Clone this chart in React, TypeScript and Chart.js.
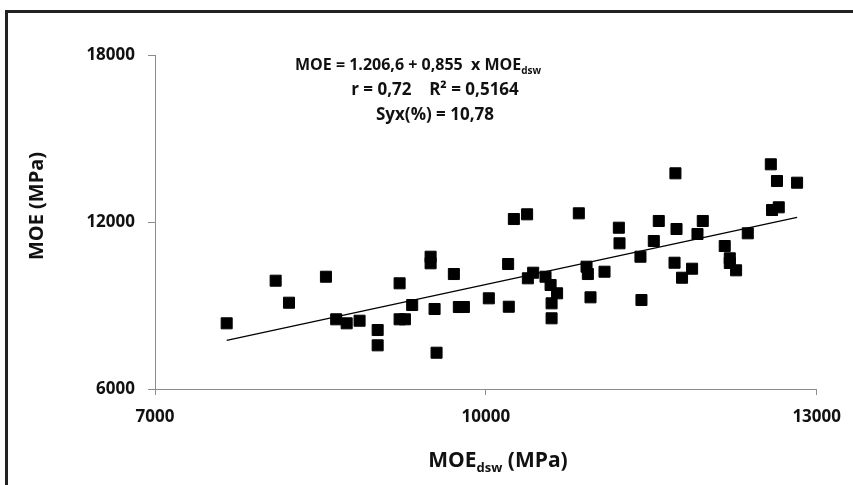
import React, { useEffect, useRef } from "react";
import { Chart, registerables } from "chart.js";

Chart.register(...registerables);

// MOE_dsw (x, MPa) and MOE (y, MPa)
const moeDsw = [
  7650, 8094, 8215, 8550, 8643, 8738, 8855, 9019, 9019, 9218,
  9218, 9266, 9332, 9499, 9499, 9535, 9553, 9710, 9755, 9801,
  10027, 10202, 10208, 10254, 10374, 10381, 10429, 10541, 10587, 10646,
  10596, 10596, 10843, 10913, 10925, 10949, 11076, 11206, 11212, 11402,
  11411, 11523, 11568, 11719, 11729, 11711, 11779, 11870, 11967, 11919,
  12166, 12212, 12212, 12269, 12375, 12584, 12640, 12822, 12595, 12656,
];
const moe = [
  8360, 9891, 9100, 10034, 8504, 8360, 8453, 8119, 7569, 9797,
  8504, 8504, 9017, 10753, 10516, 8874, 7304, 10131, 8946, 8946,
  9258, 10491, 8956, 12107, 12276, 9977, 10178, 10034, 9736, 9438,
  9078, 8540, 12312, 10394, 10131, 9294, 10214, 11795, 11234, 10753,
  9197, 11317, 12036, 13749, 11748, 10537, 9998, 10322, 12036, 11569,
  11137, 10695, 10527, 10264, 11594, 14073, 13473, 13412, 12431, 12528,
];

// Trend line end points
const trendX = [7650, 12822];
const trendY = [7747, 12169];

const xTicks = [7000, 10000, 13000];
const yTicks = [6000, 12000, 18000];

const eqMain = "MOE = 1.206,6 + 0,855  x MOE";
const eqSub = "dsw";
const statsLine = "r = 0,72    R\u00B2 = 0,5164";
const syxLine = "Syx(%) = 10,78";
const xTitleMain = "MOE";
const xTitleSub = "dsw";
const xTitleRest = " (MPa)";
const yTitle = "MOE (MPa)";

const FONT = "'Open Sans', 'DejaVu Sans', sans-serif";

type Part = { text: string; sub?: boolean };

function drawRich(
  ctx: CanvasRenderingContext2D,
  parts: Part[],
  cx: number,
  baseline: number,
  size: number
) {
  const mainFont = `bold ${size}px ${FONT}`;
  const subFont = `bold ${Math.round(size * 0.62)}px ${FONT}`;
  let total = 0;
  for (const p of parts) {
    ctx.font = p.sub ? subFont : mainFont;
    total += ctx.measureText(p.text).width;
  }
  let x = cx - total / 2;
  ctx.textAlign = "left";
  ctx.textBaseline = "alphabetic";
  for (const p of parts) {
    ctx.font = p.sub ? subFont : mainFont;
    ctx.fillText(p.text, x, p.sub ? baseline + size * 0.22 : baseline);
    x += ctx.measureText(p.text).width;
  }
}

const textPlugin = {
  id: "customText",
  afterDraw(chart: any) {
    const ctx: CanvasRenderingContext2D = chart.ctx;
    ctx.save();
    // outer frame (top and left edges visible)
    ctx.strokeStyle = "#222";
    ctx.lineWidth = 3;
    ctx.beginPath();
    ctx.moveTo(853, 11.5);
    ctx.lineTo(6.5, 11.5);
    ctx.lineTo(6.5, 485);
    ctx.stroke();

    ctx.fillStyle = "#111";
    // equation block
    drawRich(ctx, [{ text: eqMain }, { text: eqSub, sub: true }], 418, 70, 16);
    drawRich(ctx, [{ text: statsLine }], 435, 95, 17);
    drawRich(ctx, [{ text: syxLine }], 435, 120, 17);

    // x title
    drawRich(
      ctx,
      [{ text: xTitleMain }, { text: xTitleSub, sub: true }, { text: xTitleRest }],
      498,
      467,
      21
    );

    // y title
    ctx.translate(43, 206);
    ctx.rotate(-Math.PI / 2);
    drawRich(ctx, [{ text: yTitle }], 0, 0, 20);
    ctx.restore();
  },
};

export default function App() {
  const ref = useRef<HTMLCanvasElement | null>(null);

  useEffect(() => {
    if (!ref.current) return;
    const points = moeDsw.map((x, i) => ({ x, y: moe[i] }));
    const trend = trendX.map((x, i) => ({ x, y: trendY[i] }));
    const axisColor = "#8c8c8c";
    const tickFont = { family: FONT, size: 17, weight: "bold" as const };

    const chart = new Chart(ref.current, {
      type: "scatter",
      data: {
        datasets: [
          {
            type: "line",
            data: trend,
            borderColor: "#000",
            borderWidth: 1.3,
            pointRadius: 0,
            fill: false,
          } as any,
          {
            type: "scatter",
            data: points,
            pointStyle: "rect",
            pointRadius: 7.8,
            backgroundColor: "#000",
            borderColor: "#000",
            borderWidth: 1,
          } as any,
        ],
      },
      options: {
        animation: false,
        responsive: true,
        maintainAspectRatio: false,
        layout: { padding: { top: 55, right: 35, left: 0, bottom: 0 } },
        plugins: {
          legend: { display: false },
          tooltip: { enabled: false },
        },
        scales: {
          x: {
            type: "linear",
            min: 7000,
            max: 13000,
            afterBuildTicks: (axis: any) => {
              axis.ticks = xTicks.map((v) => ({ value: v }));
            },
            afterFit: (axis: any) => {
              axis.height = 96;
            },
            grid: {
              drawOnChartArea: false,
              drawTicks: true,
              tickLength: 6,
              color: axisColor,
            },
            border: { display: true, color: axisColor, width: 1 },
            ticks: {
              padding: 12,
              color: "#111",
              font: tickFont,
              callback: (v: any) => String(v),
              maxRotation: 0,
            },
          },
          y: {
            type: "linear",
            min: 6000,
            max: 18000,
            afterBuildTicks: (axis: any) => {
              axis.ticks = yTicks.map((v) => ({ value: v }));
            },
            afterFit: (axis: any) => {
              axis.width = 155;
            },
            grid: {
              drawOnChartArea: false,
              drawTicks: true,
              tickLength: 7,
              color: axisColor,
            },
            border: { display: true, color: axisColor, width: 1 },
            ticks: {
              padding: 13,
              color: "#111",
              font: tickFont,
              callback: (v: any) => String(v),
            },
          },
        },
      },
      plugins: [textPlugin],
    });
    return () => chart.destroy();
  }, []);

  return (
    <div
      style={{
        position: "absolute",
        left: 0,
        top: 0,
        width: 853,
        height: 485,
        background: "#fff",
      }}
    >
      <canvas ref={ref} />
    </div>
  );
}
